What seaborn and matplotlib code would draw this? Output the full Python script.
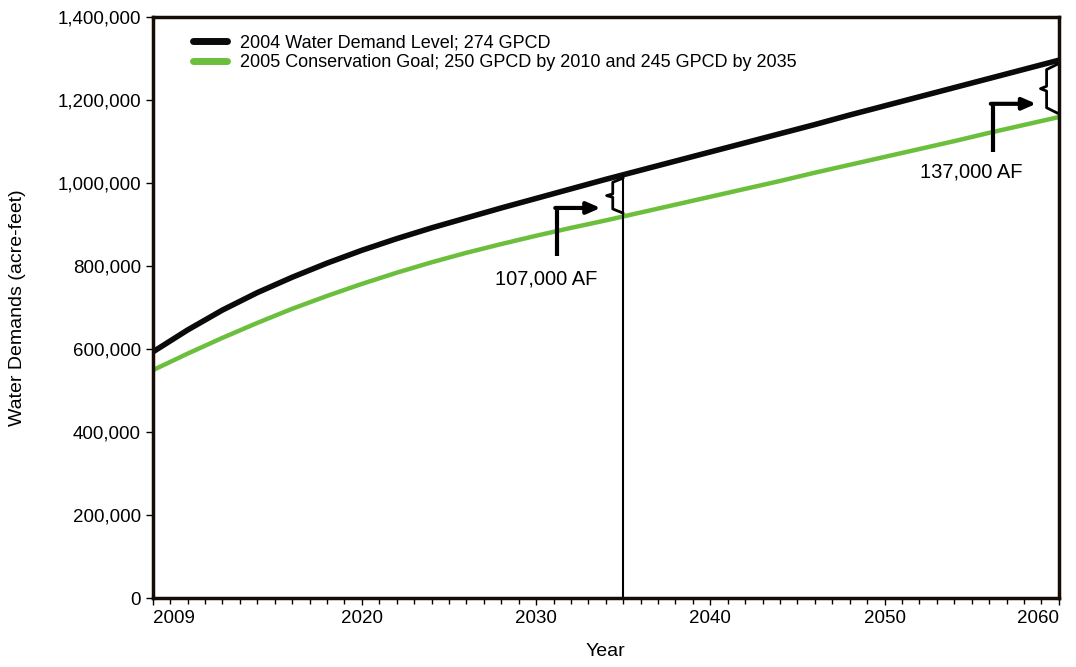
import numpy as np
import pandas as pd
import matplotlib
matplotlib.use("Agg")
import matplotlib.pyplot as plt
from matplotlib.ticker import FuncFormatter, MultipleLocator
import seaborn as sns

# data, acre-feet
years = list(range(2008, 2061, 2))
demand_2004 = [593000, 646000, 694000, 736000, 773000, 807000, 838000, 866000, 892000,
               916000, 940000, 963000, 986000, 1009000, 1031000, 1053000, 1075000,
               1097000, 1119000, 1141000, 1164000, 1186000, 1208000, 1230000, 1252000,
               1274000, 1296000]
conservation_2005 = [549000, 589000, 627000, 663000, 697000, 728000, 757000, 784000, 809000,
                     832000, 853000, 873000, 892000, 910000, 929000, 948000, 967000,
                     986000, 1005000, 1025000, 1044000, 1063000, 1082000, 1101000, 1121000,
                     1140000, 1159000]
series_names = ["2004 Water Demand Level; 274 GPCD",
                "2005 Conservation Goal; 250 GPCD by 2010 and 245 GPCD by 2035"]
series_colors = ["#0a0a0a", "#6cbf3c"]

tick_years = [2008, 2020, 2030, 2040, 2050, 2060]
tick_labels = ["2009", "2020", "2030", "2040", "2050", "2060"]

# savings annotations
gap_years = [2035, 2060]
gap_labels = ["107,000 AF", "137,000 AF"]

df = pd.DataFrame({
    "Year": years * 2,
    "Demand": demand_2004 + conservation_2005,
    "Series": [series_names[0]] * len(years) + [series_names[1]] * len(years),
})

sns.set_style("ticks")
plt.rcParams["font.family"] = ["Liberation Sans", "DejaVu Sans"]
plt.rcParams["text.color"] = "black"
plt.rcParams["axes.labelcolor"] = "black"
plt.rcParams["xtick.color"] = "black"
plt.rcParams["ytick.color"] = "black"

fig = plt.figure(figsize=(10.76, 6.67), dpi=100)
ax = fig.add_axes([0.142, 0.1034, 0.842, 0.871])

sns.lineplot(data=df, x="Year", y="Demand", hue="Series", hue_order=series_names,
             palette=series_colors, ax=ax, legend=True)
for line, lw in zip(ax.get_lines(), [4.0, 3.2]):
    line.set_linewidth(lw)

ax.set_xlim(2008, 2060)
ax.set_ylim(0, 1400000)
ax.set_xticks(tick_years)
ax.set_xticklabels(tick_labels)
ax.xaxis.set_minor_locator(MultipleLocator(1))
ax.yaxis.set_major_locator(MultipleLocator(200000))
ax.yaxis.set_major_formatter(FuncFormatter(lambda v, p: f"{int(v):,}"))
ax.tick_params(axis="both", which="major", labelsize=13.5, length=5, width=1,
               color="black", labelcolor="black")
ax.tick_params(axis="x", which="minor", length=4, width=1, color="black")
xt = ax.get_xticklabels()
xt[0].set_horizontalalignment("left")
xt[-1].set_horizontalalignment("right")

for s in ax.spines.values():
    s.set_linewidth(2.5)
    s.set_color("#160c06")

ax.set_xlabel("Year", fontsize=14, color="black")
ax.set_ylabel("Water Demands (acre-feet)", fontsize=14, color="black")
ax.xaxis.set_label_coords(0.5, -0.077)
ax.yaxis.set_label_coords(-0.140, 0.5)

leg = ax.legend(loc="upper left", bbox_to_anchor=(0.036, 0.982), frameon=False,
                fontsize=13, handlelength=1.9, handletextpad=0.75, labelspacing=0.15,
                borderaxespad=0)
for h in leg.get_lines():
    h.set_linewidth(5)
for t in leg.get_texts():
    t.set_color("black")


def draw_brace(x, y_top, y_bot, x_right, nub):
    mid = (y_top + y_bot) / 2
    d = (y_top - y_bot) * 0.12
    xs = [x_right, x, x, x - nub, x, x, x_right]
    ys = [y_top, y_top - d, mid + d * 0.4, mid, mid - d * 0.4, y_bot + d, y_bot]
    ax.plot(xs, ys, color="black", lw=2, solid_joinstyle="round")


# vertical marker at 2035
y35_top = np.interp(gap_years[0], years, demand_2004)
ax.plot([gap_years[0], gap_years[0]], [0, y35_top], color="black", lw=1.5)

# annotation layouts (offsets in years / acre-feet relative to each gap)
layouts = [
    dict(brace_dx=-0.6, nub=0.35, arrow_x=-3.8, arrow_y0=-195000, arrow_y1=-80000,
         head_dx=-1.3, text_x=-4.4, text_y=-250000),
    dict(brace_dx=-0.7, nub=0.35, arrow_x=-3.8, arrow_y0=-220000, arrow_y1=-105000,
         head_dx=-1.3, text_x=-5.0, text_y=-270000),
]

for yr, label, lay in zip(gap_years, gap_labels, layouts):
    top = np.interp(yr, years, demand_2004)
    bot = np.interp(yr, years, conservation_2005)
    bx = yr + lay["brace_dx"]
    draw_brace(bx, top - 8000, bot + 8000, yr, lay["nub"])
    ax_x = yr + lay["arrow_x"]
    ax.plot([ax_x, ax_x], [top + lay["arrow_y0"], top + lay["arrow_y1"]], color="black", lw=3,
            solid_capstyle="butt")
    ax.annotate("", xy=(yr + lay["head_dx"], top + lay["arrow_y1"]),
                xytext=(ax_x - 0.1, top + lay["arrow_y1"]),
                arrowprops=dict(arrowstyle="-|>,head_length=0.8,head_width=0.35",
                                color="black", lw=3, shrinkA=0, shrinkB=0))
    ax.text(yr + lay["text_x"], top + lay["text_y"], label, ha="center", va="center",
            fontsize=14.5, color="black")

fig.savefig("out.png", dpi=100)
